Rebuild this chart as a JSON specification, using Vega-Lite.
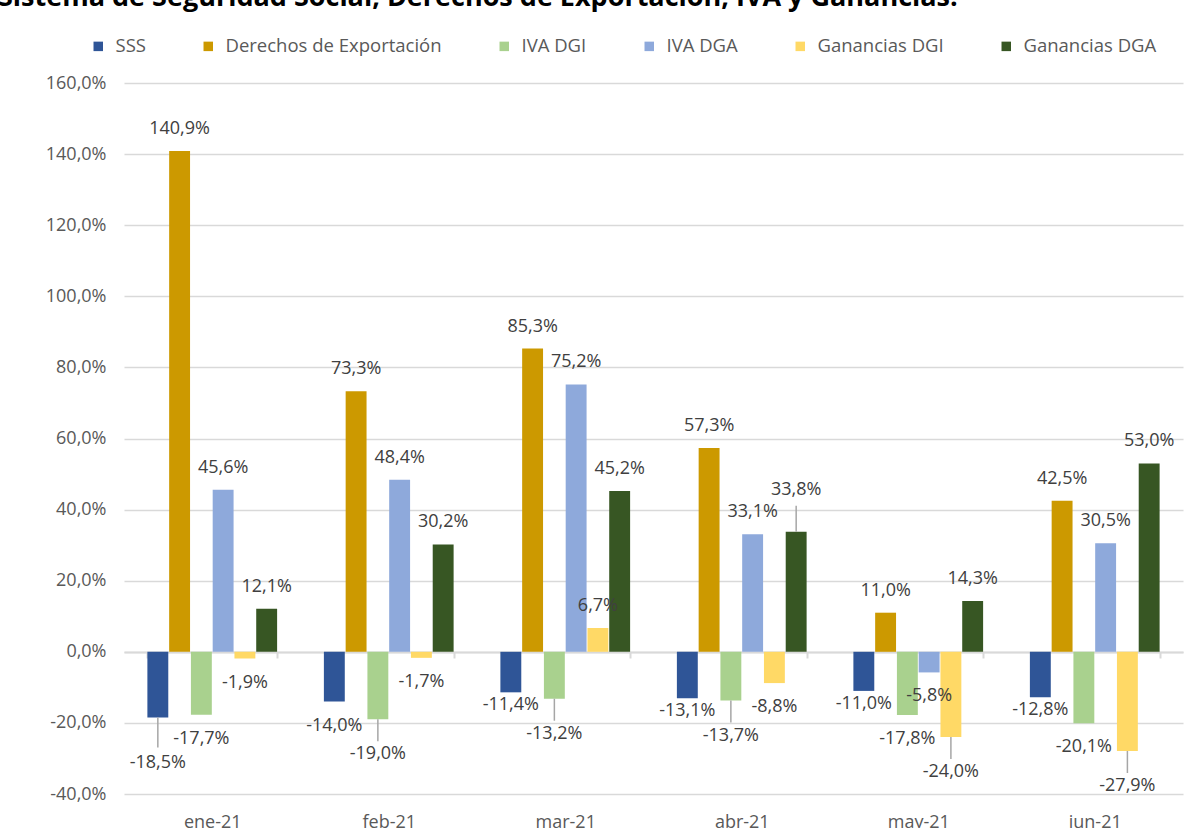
{
  "$schema": "https://vega.github.io/schema/vega-lite/v6.json",
  "width": 1059,
  "height": 711,
  "autosize": {"type": "none"},
  "padding": {"left": 124, "top": 83, "right": 14, "bottom": 34},
  "background": "white",
  "config": {
    "locale": {"number": {"decimal": ",", "thousands": ".", "grouping": [3], "currency": ["$", ""], "minus": "-"}},
    "view": {"stroke": null},
    "font": "Open Sans"
  },
  "title": {
    "text": "Sistema de Seguridad Social, Derechos de Exportación, IVA y Ganancias.",
    "anchor": "start",
    "frame": "group",
    "dx": -126,
    "dy": -4,
    "offset": 0,
    "baseline": "alphabetic",
    "fontSize": 27,
    "fontWeight": "bold",
    "color": "#000000",
    "font": "Open Sans"
  },
  "data": {
    "values": [
      {"mes": "ene-21", "serie": "SSS", "valor": -0.185},
      {"mes": "ene-21", "serie": "Derechos de Exportación", "valor": 1.409},
      {"mes": "ene-21", "serie": "IVA DGI", "valor": -0.177},
      {"mes": "ene-21", "serie": "IVA DGA", "valor": 0.456},
      {"mes": "ene-21", "serie": "Ganancias DGI", "valor": -0.019},
      {"mes": "ene-21", "serie": "Ganancias DGA", "valor": 0.121},
      {"mes": "feb-21", "serie": "SSS", "valor": -0.140},
      {"mes": "feb-21", "serie": "Derechos de Exportación", "valor": 0.733},
      {"mes": "feb-21", "serie": "IVA DGI", "valor": -0.190},
      {"mes": "feb-21", "serie": "IVA DGA", "valor": 0.484},
      {"mes": "feb-21", "serie": "Ganancias DGI", "valor": -0.017},
      {"mes": "feb-21", "serie": "Ganancias DGA", "valor": 0.302},
      {"mes": "mar-21", "serie": "SSS", "valor": -0.114},
      {"mes": "mar-21", "serie": "Derechos de Exportación", "valor": 0.853},
      {"mes": "mar-21", "serie": "IVA DGI", "valor": -0.132},
      {"mes": "mar-21", "serie": "IVA DGA", "valor": 0.752},
      {"mes": "mar-21", "serie": "Ganancias DGI", "valor": 0.067},
      {"mes": "mar-21", "serie": "Ganancias DGA", "valor": 0.452},
      {"mes": "abr-21", "serie": "SSS", "valor": -0.131},
      {"mes": "abr-21", "serie": "Derechos de Exportación", "valor": 0.573},
      {"mes": "abr-21", "serie": "IVA DGI", "valor": -0.137},
      {"mes": "abr-21", "serie": "IVA DGA", "valor": 0.331},
      {"mes": "abr-21", "serie": "Ganancias DGI", "valor": -0.088},
      {"mes": "abr-21", "serie": "Ganancias DGA", "valor": 0.338},
      {"mes": "may-21", "serie": "SSS", "valor": -0.110},
      {"mes": "may-21", "serie": "Derechos de Exportación", "valor": 0.110},
      {"mes": "may-21", "serie": "IVA DGI", "valor": -0.178},
      {"mes": "may-21", "serie": "IVA DGA", "valor": -0.058},
      {"mes": "may-21", "serie": "Ganancias DGI", "valor": -0.240},
      {"mes": "may-21", "serie": "Ganancias DGA", "valor": 0.143},
      {"mes": "jun-21", "serie": "SSS", "valor": -0.128},
      {"mes": "jun-21", "serie": "Derechos de Exportación", "valor": 0.425},
      {"mes": "jun-21", "serie": "IVA DGI", "valor": -0.201},
      {"mes": "jun-21", "serie": "IVA DGA", "valor": 0.305},
      {"mes": "jun-21", "serie": "Ganancias DGI", "valor": -0.279},
      {"mes": "jun-21", "serie": "Ganancias DGA", "valor": 0.530}
    ]
  },
  "encoding": {
    "x": {
      "field": "mes", "type": "nominal",
      "sort": ["ene-21", "feb-21", "mar-21", "abr-21", "may-21", "jun-21"],
      "scale": {"paddingInner": 0.265, "paddingOuter": 0.1325},
      "axis": {
        "title": null, "offset": -142, "domainColor": "#D9D9D9", "domainWidth": 2,
        "tickColor": "#D9D9D9", "tickWidth": 2, "tickSize": 6, "tickBand": "extent",
        "labelAngle": 0, "labelFontSize": 18, "labelColor": "#595959", "labelPadding": 155,
        "labelFont": "Open Sans", "grid": false
      }
    },
    "xOffset": {
      "field": "serie", "type": "nominal",
      "sort": ["SSS", "Derechos de Exportación", "IVA DGI", "IVA DGA", "Ganancias DGI", "Ganancias DGA"],
      "scale": {"paddingInner": 0.04, "paddingOuter": 0}
    },
    "y": {
      "field": "valor", "type": "quantitative",
      "scale": {"domain": [-0.4, 1.6], "nice": false, "zero": false},
      "axis": {
        "title": null, "format": ".1%",
        "values": [-0.4, -0.2, 0, 0.2, 0.4, 0.6, 0.8, 1.0, 1.2, 1.4, 1.6],
        "grid": true, "gridColor": "#D9D9D9", "gridWidth": 1.5,
        "domain": false, "ticks": false, "labelFontSize": 18, "labelColor": "#595959",
        "labelPadding": 18, "labelFont": "Open Sans"
      }
    }
  },
  "layer": [
    {
      "mark": {"type": "bar"},
      "encoding": {
        "color": {
          "field": "serie", "type": "nominal",
          "sort": ["SSS", "Derechos de Exportación", "IVA DGI", "IVA DGA", "Ganancias DGI", "Ganancias DGA"],
          "scale": {
            "domain": ["SSS", "Derechos de Exportación", "IVA DGI", "IVA DGA", "Ganancias DGI", "Ganancias DGA"],
            "range": ["#2F5597", "#CC9900", "#A9D18E", "#8EA9DB", "#FFD966", "#375623"]
          },
          "legend": {
            "title": null, "orient": "none", "direction": "horizontal", "columns": 6,
            "legendX": -35, "legendY": -46,
            "symbolType": "square", "symbolSize": 90, "symbolStrokeWidth": 0,
            "labelFontSize": 18.5, "labelColor": "#595959", "labelFont": "Open Sans",
            "labelOffset": 8, "columnPadding": 53, "labelLimit": 400
          }
        }
      }
    },
    {
      "transform": [{"filter": "datum.valor >= 0 && datum.mes + '|' + datum.serie != 'abr-21|Ganancias DGA'"}],
      "mark": {"type": "text", "baseline": "middle", "dy": -22, "fontSize": 18, "color": "#404040", "font": "Open Sans"},
      "encoding": {"text": {"field": "valor", "type": "quantitative", "format": ".1%"}}
    },
    {
      "transform": [{"filter": "datum.mes + '|' + datum.serie == 'abr-21|Ganancias DGA'"}],
      "mark": {"type": "rule", "yOffset": 0, "y2Offset": -26, "color": "#A6A6A6", "strokeWidth": 1.5},
      "encoding": {"y2": {"field": "valor"}}
    },
    {
      "transform": [{"filter": "datum.mes + '|' + datum.serie == 'abr-21|Ganancias DGA'"}],
      "mark": {"type": "text", "baseline": "middle", "dy": -42, "fontSize": 18, "color": "#404040", "font": "Open Sans"},
      "encoding": {"text": {"field": "valor", "type": "quantitative", "format": ".1%"}}
    },
    {
      "transform": [{"filter": "datum.valor < 0 && indexof(['mar-21|SSS', 'abr-21|SSS', 'may-21|SSS', 'jun-21|SSS'], datum.mes + '|' + datum.serie) >= 0"}],
      "mark": {"type": "text", "baseline": "middle", "dy": 13, "fontSize": 18, "color": "#404040", "font": "Open Sans"},
      "encoding": {"text": {"field": "valor", "type": "quantitative", "format": ".1%"}}
    },
    {
      "transform": [{"filter": "datum.valor < 0 && indexof(['mar-21|SSS', 'abr-21|SSS', 'may-21|SSS', 'jun-21|SSS', 'ene-21|SSS', 'feb-21|IVA DGI', 'mar-21|IVA DGI', 'abr-21|IVA DGI', 'may-21|Ganancias DGI', 'jun-21|Ganancias DGI'], datum.mes + '|' + datum.serie) < 0"}],
      "mark": {"type": "text", "baseline": "middle", "dy": 24, "fontSize": 18, "color": "#404040", "font": "Open Sans"},
      "encoding": {"text": {"field": "valor", "type": "quantitative", "format": ".1%"}}
    },
    {
      "transform": [{"filter": "indexof(['feb-21|IVA DGI', 'mar-21|IVA DGI', 'abr-21|IVA DGI', 'may-21|Ganancias DGI', 'jun-21|Ganancias DGI'], datum.mes + '|' + datum.serie) >= 0"}],
      "mark": {"type": "rule", "yOffset": 0, "y2Offset": 22, "color": "#A6A6A6", "strokeWidth": 1.5},
      "encoding": {"y2": {"field": "valor"}}
    },
    {
      "transform": [{"filter": "indexof(['feb-21|IVA DGI', 'mar-21|IVA DGI', 'abr-21|IVA DGI', 'may-21|Ganancias DGI', 'jun-21|Ganancias DGI'], datum.mes + '|' + datum.serie) >= 0"}],
      "mark": {"type": "text", "baseline": "middle", "dy": 35, "fontSize": 18, "color": "#404040", "font": "Open Sans"},
      "encoding": {"text": {"field": "valor", "type": "quantitative", "format": ".1%"}}
    },
    {
      "transform": [{"filter": "datum.mes + '|' + datum.serie == 'ene-21|SSS'"}],
      "mark": {"type": "rule", "yOffset": 0, "y2Offset": 30, "color": "#A6A6A6", "strokeWidth": 1.5},
      "encoding": {"y2": {"field": "valor"}}
    },
    {
      "transform": [{"filter": "datum.mes + '|' + datum.serie == 'ene-21|SSS'"}],
      "mark": {"type": "text", "baseline": "middle", "dy": 45, "fontSize": 18, "color": "#404040", "font": "Open Sans"},
      "encoding": {"text": {"field": "valor", "type": "quantitative", "format": ".1%"}}
    }
  ]
}
